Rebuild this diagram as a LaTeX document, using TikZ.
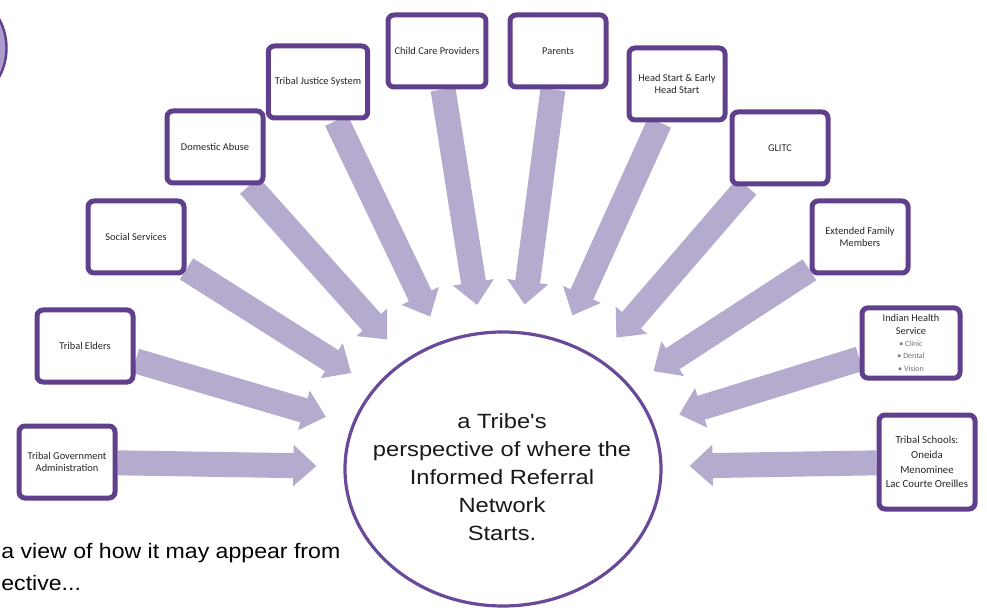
\documentclass[tikz,border=0pt]{standalone}
\usepackage{fontspec}
\setmainfont{Carlito}
\newfontfamily\hubfont[FakeStretch=1.15]{Liberation Sans}
\newfontfamily\notefont[FakeStretch=1.1]{Liberation Sans}
\usepackage{tikz}
\usetikzlibrary{shapes, arrows.meta, shadows, backgrounds}
\definecolor{boxline}{RGB}{96,64,140}
\definecolor{hubline}{RGB}{104,74,152}
\definecolor{arrowfill}{RGB}{181,171,206}
\definecolor{badgefill}{RGB}{170,155,205}
\newcommand{\ihsitem}[1]{{\fontsize{4}{5}\selectfont\color{black!55}\textbullet\ #1}}
\tikzstyle{agency} = [rectangle, rounded corners=3pt, draw=boxline, line width=2.5pt,
    fill=white, minimum width=48pt, minimum height=36pt, align=center,
    text=black!85, font=\fontsize{5.2}{6.2}\selectfont,
    drop shadow={shadow xshift=0.8pt, shadow yshift=-1pt, opacity=0.25}]
\tikzstyle{perspective} = [ellipse, draw=hubline, line width=1.6pt, fill=white,
    minimum width=158pt, minimum height=137pt, inner sep=0pt]
\tikzstyle{hubtext} = [align=center, inner sep=0pt, text=black!90,
    font=\hubfont\fontsize{10.3}{14}\selectfont]
\tikzstyle{feed} = [draw=arrowfill, line width=12.5pt,
    -{Triangle[length=11.5pt, width=20pt]}, shorten >=13.5pt]
\tikzstyle{note} = [anchor=base west, inner sep=0pt, font=\notefont\fontsize{10.5}{12}\selectfont]

\begin{document}
\begin{tikzpicture}[x=0.5pt, y=-0.5pt]
    \useasboundingbox (0,0) rectangle (987,615);
    % Nodes
    \node [circle, draw=boxline, line width=1.2pt, left color=badgefill!60, right color=badgefill,
        minimum size=61pt] (badge) at (-54.5,48) {};
    \node [perspective] (hub) at (503,469) {};
    \node [hubtext] (hublabel) at (502,477) {a Tribe's\\perspective of where the\\Informed Referral\\Network\\Starts.};
    \node [agency] (gov) at (67,462) {Tribal Government\\Administration};
    \node [agency] (elders) at (85,346) {Tribal Elders};
    \node [agency] (social) at (136,237) {Social Services};
    \node [agency] (abuse) at (215,147) {Domestic Abuse};
    \node [agency] (justice) at (318,82) {Tribal Justice System};
    \node [agency] (childcare) at (437,51) {Child Care Providers};
    \node [agency] (parents) at (558,51) {Parents};
    \node [agency] (headstart) at (677,84) {Head Start \& Early\\Head Start};
    \node [agency] (glitc) at (780,148) {GLITC};
    \node [agency] (family) at (860,237) {Extended Family\\Members};
    \node [agency, minimum width=49pt, minimum height=34pt] (ihs) at (911,343)
        {Indian Health\\Service\\\ihsitem{Clinic}\\\ihsitem{Dental}\\\ihsitem{Vision}};
    \node [agency, minimum height=47pt, font=\fontsize{5.4}{7.4}\selectfont] (schools) at (927,462)
        {Tribal Schools:\\Oneida\\Menominee\\Lac Courte Oreilles};
    \node [note] (note1) at (1,558) {a view of how it may appear from};
    \node [note] (note2) at (1,590) {ective...};
    % Edges
    \begin{scope}[on background layer]
    \path [feed] (gov) -- (hub);
    \path [feed] (elders) -- (hub);
    \path [feed] (social) -- (hub);
    \path [feed] (abuse) -- (hub);
    \path [feed] (justice) -- (hub);
    \path [feed] (childcare) -- (hub);
    \path [feed] (parents) -- (hub);
    \path [feed] (headstart) -- (hub);
    \path [feed] (glitc) -- (hub);
    \path [feed] (family) -- (hub);
    \path [feed] (ihs) -- (hub);
    \path [feed] (schools) -- (hub);
    \end{scope}
\end{tikzpicture}
\end{document}
